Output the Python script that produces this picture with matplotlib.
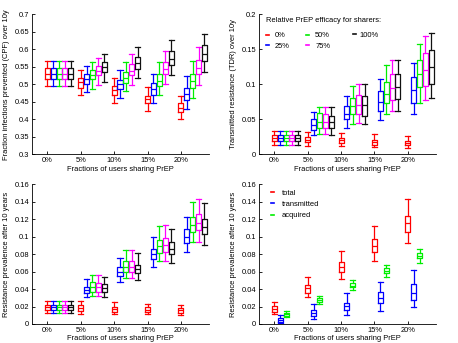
import matplotlib
matplotlib.use("Agg")
import matplotlib.pyplot as plt
from matplotlib.lines import Line2D
from matplotlib.ticker import FormatStrFormatter, MultipleLocator

plt.rcParams["font.family"] = ["Liberation Sans", "DejaVu Sans"]
plt.rcParams["font.size"] = 5.4

# x categories (fraction of users sharing PrEP)
fractions = ["0%", "5%", "10%", "15%", "20%"]
efficacy_labels = ["0%", "25%", "50%", "75%", "100%"]
efficacy_colors = ["#ff0000", "#0000ff", "#00ee00", "#ff00ff", "#111111"]

# box stats per fraction: [whisker low, q1, median, q3, whisker high]
# panel 1: fraction of infections prevented (CPF)
cpf_0 = [[0.495, 0.514, 0.530, 0.547, 0.566], [0.470, 0.490, 0.506, 0.518, 0.541],
         [0.447, 0.469, 0.483, 0.494, 0.518], [0.425, 0.447, 0.457, 0.467, 0.492],
         [0.400, 0.422, 0.433, 0.445, 0.467]]
cpf_25 = [[0.495, 0.514, 0.530, 0.547, 0.566], [0.479, 0.502, 0.516, 0.529, 0.552],
          [0.462, 0.486, 0.500, 0.513, 0.540], [0.445, 0.470, 0.485, 0.503, 0.530],
          [0.428, 0.455, 0.472, 0.490, 0.522]]
cpf_50 = [[0.495, 0.514, 0.530, 0.547, 0.566], [0.485, 0.514, 0.526, 0.540, 0.564],
          [0.480, 0.504, 0.518, 0.535, 0.562], [0.468, 0.495, 0.510, 0.530, 0.563],
          [0.460, 0.490, 0.508, 0.530, 0.565]]
cpf_75 = [[0.495, 0.514, 0.530, 0.547, 0.566], [0.498, 0.526, 0.538, 0.553, 0.576],
          [0.497, 0.526, 0.538, 0.558, 0.585], [0.500, 0.530, 0.543, 0.563, 0.595],
          [0.497, 0.530, 0.547, 0.570, 0.605]]
cpf_100 = [[0.495, 0.514, 0.530, 0.547, 0.566], [0.507, 0.536, 0.550, 0.562, 0.586],
           [0.518, 0.542, 0.561, 0.578, 0.605], [0.527, 0.555, 0.573, 0.595, 0.625],
           [0.535, 0.565, 0.587, 0.612, 0.643]]

# panel 2: transmitted resistance (TDR)
tdr_0 = [[0.014, 0.019, 0.023, 0.027, 0.034], [0.012, 0.017, 0.021, 0.025, 0.032],
         [0.012, 0.0166, 0.020, 0.024, 0.031], [0.011, 0.014, 0.018, 0.021, 0.0285],
         [0.0095, 0.0128, 0.0166, 0.0195, 0.026]]
tdr_25 = [[0.014, 0.019, 0.023, 0.027, 0.034], [0.027, 0.035, 0.042, 0.051, 0.060],
          [0.038, 0.050, 0.058, 0.069, 0.0836], [0.049, 0.062, 0.075, 0.091, 0.107],
          [0.058, 0.0727, 0.092, 0.110, 0.130]]
tdr_50 = [[0.014, 0.019, 0.023, 0.027, 0.034], [0.0285, 0.037, 0.0466, 0.059, 0.067],
          [0.043, 0.058, 0.069, 0.081, 0.097], [0.057, 0.0727, 0.086, 0.1036, 0.127],
          [0.0727, 0.0955, 0.1145, 0.134, 0.157]]
tdr_75 = [[0.014, 0.019, 0.023, 0.027, 0.034], [0.0285, 0.037, 0.046, 0.058, 0.068],
          [0.044, 0.058, 0.070, 0.0846, 0.100], [0.062, 0.078, 0.095, 0.1145, 0.134],
          [0.078, 0.0974, 0.120, 0.145, 0.169]]
tdr_100 = [[0.014, 0.019, 0.023, 0.027, 0.034], [0.028, 0.037, 0.0456, 0.055, 0.067],
           [0.043, 0.055, 0.070, 0.0836, 0.100], [0.062, 0.079, 0.0955, 0.115, 0.135],
           [0.080, 0.0998, 0.124, 0.149, 0.173]]

# panel 3: resistance prevalence after 10 years
prev_0 = [[0.0125, 0.016, 0.019, 0.0217, 0.0267], [0.0114, 0.0149, 0.018, 0.0214, 0.0263],
          [0.012, 0.014, 0.017, 0.020, 0.025], [0.011, 0.0135, 0.016, 0.0195, 0.023],
          [0.010, 0.013, 0.0155, 0.0185, 0.022]]
prev_25 = [[0.0125, 0.016, 0.019, 0.0217, 0.0267], [0.0305, 0.035, 0.0389, 0.0427, 0.051],
           [0.0476, 0.055, 0.0598, 0.0655, 0.075], [0.0648, 0.074, 0.080, 0.0857, 0.099],
           [0.082, 0.0922, 0.100, 0.1086, 0.1227]]
prev_50 = [[0.0125, 0.016, 0.019, 0.0217, 0.0267], [0.032, 0.037, 0.0427, 0.0476, 0.0556],
           [0.0522, 0.0598, 0.0655, 0.0716, 0.0846], [0.0724, 0.0808, 0.089, 0.096, 0.112],
           [0.094, 0.105, 0.113, 0.1227, 0.140]]
prev_75 = [[0.0125, 0.016, 0.019, 0.0217, 0.0267], [0.032, 0.037, 0.042, 0.0465, 0.0556],
           [0.0522, 0.0598, 0.0655, 0.0724, 0.0846], [0.0724, 0.0827, 0.090, 0.098, 0.113],
           [0.094, 0.1074, 0.1158, 0.1257, 0.1425]]
prev_100 = [[0.0125, 0.016, 0.019, 0.0217, 0.0267], [0.0305, 0.0362, 0.0408, 0.0453, 0.0533],
            [0.050, 0.058, 0.0625, 0.068, 0.081], [0.0693, 0.080, 0.086, 0.094, 0.109],
            [0.090, 0.1025, 0.111, 0.1196, 0.1387]]

# panel 4: resistance prevalence split by origin
origin_labels = ["total", "transmitted", "acquired"]
origin_colors = ["#ff0000", "#0000ff", "#00ee00"]
prev_total = [[0.0114, 0.0141, 0.0175, 0.0206, 0.0255], [0.0312, 0.0358, 0.0408, 0.0446, 0.054],
              [0.051, 0.0598, 0.0648, 0.0705, 0.0834], [0.072, 0.0827, 0.0891, 0.0968, 0.1124],
              [0.093, 0.1055, 0.115, 0.1234, 0.1425]]
prev_transmitted = [[0.001, 0.0027, 0.0046, 0.0072, 0.0103], [0.0057, 0.0095, 0.013, 0.016, 0.0225],
                    [0.0103, 0.016, 0.0206, 0.0244, 0.035], [0.0152, 0.0236, 0.030, 0.037, 0.0484],
                    [0.0198, 0.0274, 0.0358, 0.0457, 0.0617]]
prev_acquired = [[0.0076, 0.0095, 0.0114, 0.013, 0.0152], [0.0225, 0.0255, 0.0274, 0.0293, 0.0324],
                 [0.0389, 0.0419, 0.0438, 0.0465, 0.0503], [0.054, 0.0587, 0.061, 0.0636, 0.0674],
                 [0.070, 0.075, 0.0777, 0.0808, 0.0853]]

step = 0.176
width = 0.15
lw = 0.9


def draw_series(ax, series, k, color):
    stats = [dict(whislo=s[0], q1=s[1], med=s[2], q3=s[3], whishi=s[4]) for s in series]
    pos = [i + 1 + k * step for i in range(len(series))]
    props = dict(color=color, linewidth=lw)
    ax.bxp(stats, positions=pos, widths=width, capwidths=width, showfliers=False,
           boxprops=props, whiskerprops=props, capprops=props, medianprops=props,
           manage_ticks=False)


def style_axes(ax, ylim, ystep, ylabel):
    ax.set_xlim(0.54, 5.85)
    ax.set_ylim(*ylim)
    ax.set_xticks(range(1, 6))
    ax.set_xticklabels(fractions)
    ax.yaxis.set_major_locator(MultipleLocator(ystep))
    ax.yaxis.set_major_formatter(FormatStrFormatter("%g"))
    ax.tick_params(direction="in", length=2.5, width=0.6, pad=2)
    ax.spines["top"].set_visible(False)
    ax.spines["right"].set_visible(False)
    for s in ("left", "bottom"):
        ax.spines[s].set_linewidth(0.6)
    ax.set_xlabel("Fractions of users sharing PrEP", labelpad=1)
    ax.set_ylabel(ylabel, labelpad=3)


fig = plt.figure(figsize=(4.58, 3.43), dpi=100)
w = 0.387
ax1 = fig.add_axes([0.0699, 0.550, w, 0.409])
ax2 = fig.add_axes([0.5655, 0.550, w, 0.409])
ax3 = fig.add_axes([0.0699, 0.0554, w, 0.408])
ax4 = fig.add_axes([0.5655, 0.0554, w, 0.408])

for k, (series, c) in enumerate(zip([cpf_0, cpf_25, cpf_50, cpf_75, cpf_100], efficacy_colors)):
    draw_series(ax1, series, k, c)
style_axes(ax1, (0.3, 0.7), 0.05, "Fraction infections prevented (CPF) over 10y")

for k, (series, c) in enumerate(zip([tdr_0, tdr_25, tdr_50, tdr_75, tdr_100], efficacy_colors)):
    draw_series(ax2, series, k, c)
style_axes(ax2, (0, 0.2), 0.05, "Transmitted resistance (TDR) over 10y")

# efficacy legend: first two columns with the title, last column on its own
handles = [Line2D([], [], color=c, linewidth=1.2) for c in efficacy_colors]
leg = ax2.legend(handles[:4], efficacy_labels[:4], title="Relative PrEP efficacy for sharers:",
                 ncol=2, frameon=False, loc="upper left", bbox_to_anchor=(0.0, 1.03),
                 handlelength=0.45, handletextpad=0.8, columnspacing=2.1,
                 labelspacing=0.45, alignment="left", title_fontsize=5.4, fontsize=5.4)
leg._legend_box.sep = 6
ax2.add_artist(leg)
ax2.legend(handles[4:], efficacy_labels[4:], frameon=False, loc="upper left",
           bbox_to_anchor=(0.49, 0.925), handlelength=0.45, handletextpad=0.5, fontsize=5.4)

for k, (series, c) in enumerate(zip([prev_0, prev_25, prev_50, prev_75, prev_100], efficacy_colors)):
    draw_series(ax3, series, k, c)
style_axes(ax3, (0, 0.16), 0.02, "Resistance prevalence after 10 years")

for k, (series, c) in enumerate(zip([prev_total, prev_transmitted, prev_acquired], origin_colors)):
    draw_series(ax4, series, k, c)
style_axes(ax4, (0, 0.16), 0.02, "Resistance prevalence after 10 years")

handles = [Line2D([], [], color=c, linewidth=1.2) for c in origin_colors]
ax4.legend(handles, origin_labels, frameon=False, loc="upper left",
           bbox_to_anchor=(0.03, 1.01), handlelength=0.45, handletextpad=1.0,
           labelspacing=0.55, fontsize=5.4)

fig.savefig("out.png", dpi=100)
